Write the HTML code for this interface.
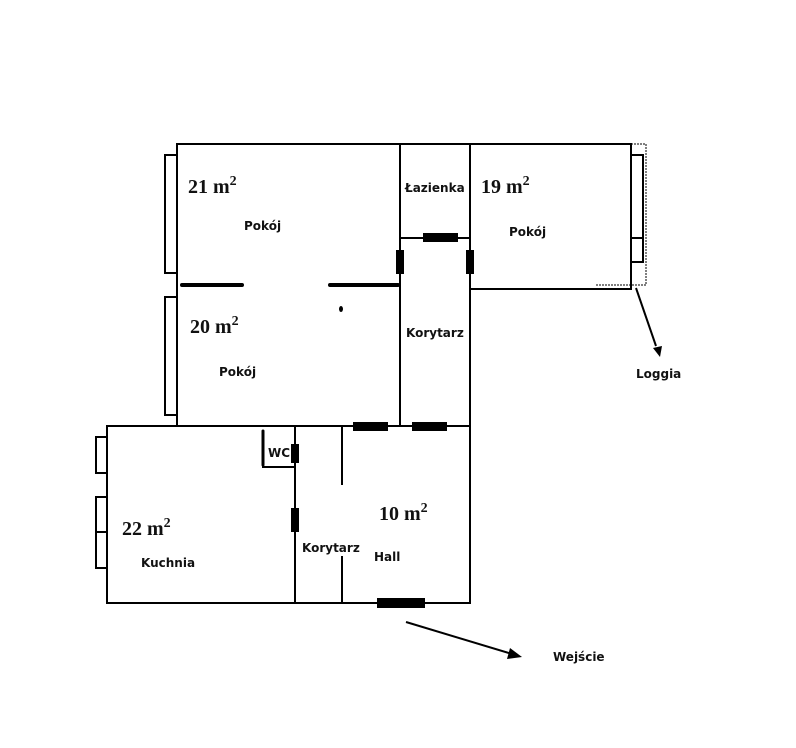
<!DOCTYPE html>
<html><head><meta charset="utf-8"><style>
html,body{margin:0;padding:0;background:#fff;}
svg{display:block;}
.s{font-family:"DejaVu Sans","Liberation Sans",sans-serif;font-weight:bold;font-size:12px;fill:#111;}
.m{font-family:"Liberation Serif",serif;font-weight:bold;font-size:20px;fill:#111;}
.sup{font-size:14px;}
</style></head><body>
<svg width="796" height="748" viewBox="0 0 796 748" xmlns="http://www.w3.org/2000/svg">
<g stroke="#000" stroke-width="2" fill="none">
<polyline points="177,426 177,144 631,144 631,289 470,289"/>
<line x1="400" y1="144" x2="400" y2="426"/>
<line x1="470" y1="144" x2="470" y2="426"/>
<line x1="400" y1="238" x2="470" y2="238"/>
<rect x="165" y="155" width="12" height="118"/>
<rect x="165" y="297" width="12" height="118"/>
<rect x="631" y="155" width="12" height="107"/>
<line x1="631" y1="238" x2="643" y2="238"/>
<rect x="107" y="426" width="363" height="177"/>
<line x1="295" y1="426" x2="295" y2="603"/>
<line x1="342" y1="426" x2="342" y2="485"/>
<line x1="342" y1="556" x2="342" y2="603"/>
<polyline points="263,430 263,467 295,467"/>
<rect x="96" y="437" width="11" height="36"/>
<rect x="96" y="497" width="11" height="71"/>
<line x1="96" y1="532" x2="107" y2="532"/>
</g>
<g stroke="#000" stroke-width="1" stroke-dasharray="2,1" fill="none">
<polyline points="631,144 646,144 646,285 595,285"/>
</g>
<g stroke="#000" stroke-linecap="round" fill="none">
<line x1="182" y1="285" x2="242" y2="285" stroke-width="4"/>
<line x1="330" y1="285" x2="398" y2="285" stroke-width="4"/>
<line x1="263" y1="431" x2="263" y2="465" stroke-width="3"/>
</g>
<g fill="#000">
<rect x="423" y="233" width="35" height="9"/>
<rect x="396" y="250" width="8" height="24"/>
<rect x="466" y="250" width="8" height="24"/>
<rect x="353" y="422" width="35" height="9"/>
<rect x="412" y="422" width="35" height="9"/>
<rect x="291" y="444" width="8" height="19"/>
<rect x="291" y="508" width="8" height="24"/>
<rect x="377" y="598" width="48" height="10"/>
<ellipse cx="341" cy="309" rx="2" ry="3"/>
</g>
<g stroke="#000" stroke-width="2">
<line x1="636" y1="288" x2="656" y2="346"/>
<line x1="406" y1="622" x2="512" y2="654"/>
</g>
<polygon points="653,348 662,346 660,357" fill="#000"/>
<polygon points="510,648 522,657 507,659" fill="#000"/>
<text class="m" x="188" y="193">21 m<tspan class="sup" dy="-8">2</tspan></text>
<text class="m" x="481" y="193">19 m<tspan class="sup" dy="-8">2</tspan></text>
<text class="m" x="190" y="333">20 m<tspan class="sup" dy="-8">2</tspan></text>
<text class="m" x="122" y="535">22 m<tspan class="sup" dy="-8">2</tspan></text>
<text class="m" x="379" y="520">10 m<tspan class="sup" dy="-8">2</tspan></text>
<text class="s" x="244" y="230">Pokój</text>
<text class="s" x="405" y="192" font-size="11">Łazienka</text>
<text class="s" x="509" y="236">Pokój</text>
<text class="s" x="219" y="376">Pokój</text>
<text class="s" x="406" y="337">Korytarz</text>
<text class="s" x="268" y="457" font-size="11">WC</text>
<text class="s" x="141" y="567">Kuchnia</text>
<text class="s" x="302" y="552">Korytarz</text>
<text class="s" x="374" y="561">Hall</text>
<text class="s" x="636" y="378">Loggia</text>
<text class="s" x="553" y="661">Wejście</text>
</svg>
</body></html>
